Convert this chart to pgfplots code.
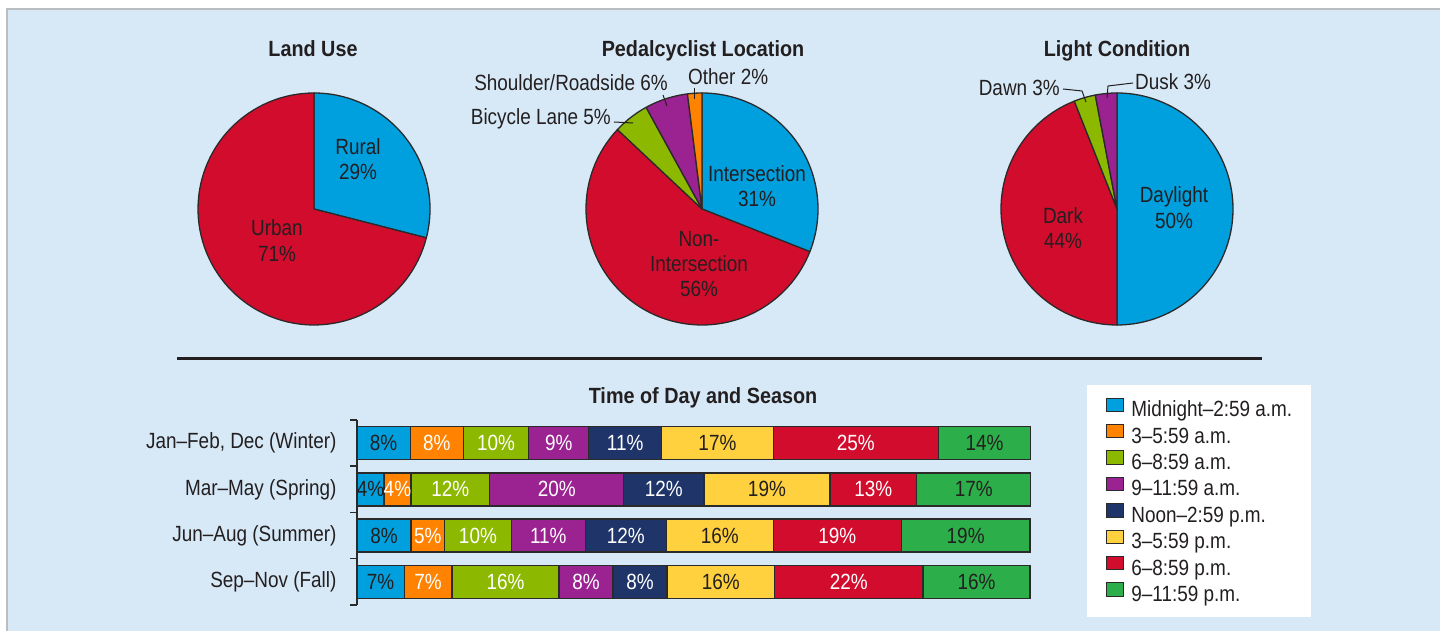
\documentclass[border=0pt]{standalone}
\usepackage{pgfplots}
\pgfplotsset{compat=1.18}
\usepackage{pgfplotstable}
\usepackage{fontspec}
\setmainfont{Liberation Sans}[FakeStretch=0.86]
\newfontfamily\tfont{Liberation Sans}[FakeStretch=0.9]
\definecolor{cBlue}{HTML}{00A0DE}
\definecolor{cOrange}{HTML}{FF8200}
\definecolor{cLime}{HTML}{8CB900}
\definecolor{cPurple}{HTML}{9B2291}
\definecolor{cNavy}{HTML}{1F3569}
\definecolor{cYellow}{HTML}{FFD13F}
\definecolor{cRed}{HTML}{D20C2D}
\definecolor{cGreen}{HTML}{2CAE4A}
\definecolor{bgblue}{HTML}{D7E9F7}
\definecolor{ink}{HTML}{231F20}
\definecolor{edge}{HTML}{2A2A2A}
\definecolor{frame}{HTML}{B9BEC3}
\newcommand\ft{\fontsize{22pt}{26pt}\selectfont}
\newcommand\ttl{\tfont\bfseries\fontsize{22pt}{26pt}\selectfont}

% widths (share of bar length) and printed labels, per season row
\pgfplotstableread{
row w1  l1 w2  l2 w3   l3 w4   l4 w5   l5 w6   l6 w7   l7 w8   l8
0   7.9 8  7.9 8  9.7  10 8.9  9  10.8 11 16.6 17 24.5 25 13.7 14
1   4.0 4  4.0 4  11.7 12 19.9 20 11.9 12 18.7 19 12.9 13 16.9 17
2   8.0 8  5.0 5  9.9  10 11.0 11 12.0 12 15.9 16 19.0 19 19.1 19
3   7.0 7  7.1 7  15.9 16 8.0  8  8.0  8  16.0 16 22.0 22 15.9 16
}\bars

% pie slice: cumulative start %, cumulative end %, colour (clockwise from 12 o'clock)
\newcommand{\slice}[3]{\addplot[fill=#3, draw=edge, line width=1.3pt, line join=round,
  domain={90-3.6*(#2)}:{90-3.6*(#1)}, samples=90] ({cos(x)},{sin(x)}) -- (axis cs:0,0) -- cycle;}

\newcommand{\seg}[4]{\addplot[fill=#3, draw=edge, line width=1.3pt,
  point meta=explicit symbolic,
  nodes near coords={\pgfplotspointmeta\%},
  every node near coord/.append style={anchor=center, text=#4, font=\ft, inner sep=0pt},
  legend image code/.code={\draw[fill=#3, draw=edge, line width=1pt] (0pt,-1.5pt) rectangle (17pt,11.8pt); \path (24pt,0pt);}]
  table[x=#1, y=row, meta=#2] {\bars};}

\pgfplotsset{pie/.style={anchor=center, width=232pt, height=232pt, scale only axis,
  xmin=-1, xmax=1, ymin=-1, ymax=1, hide axis, clip=false}}

\begin{document}
\begin{tikzpicture}
\useasboundingbox (0,0) rectangle (1440pt,631pt);
\fill[white] (0,0) rectangle (1440pt,631pt);
\fill[bgblue] (7pt,0pt) rectangle (1440pt,622pt);
\draw[frame, line width=2pt] (7pt,0pt) -- (7pt,622pt) -- (1440pt,622pt);

% ---- Land Use
\begin{axis}[pie, at={(314pt,422pt)}]
\slice{0}{29}{cBlue}
\slice{29}{100}{cRed}
\end{axis}
% ---- Pedalcyclist Location
\begin{axis}[pie, at={(702pt,422pt)}]
\slice{0}{31}{cBlue}
\slice{31}{87}{cRed}
\slice{87}{92}{cLime}
\slice{92}{98}{cPurple}
\slice{98}{100}{cOrange}
\end{axis}
% ---- Light Condition
\begin{axis}[pie, at={(1117pt,422pt)}]
\slice{0}{50}{cBlue}
\slice{50}{94}{cRed}
\slice{94}{97}{cLime}
\slice{97}{100}{cPurple}
\end{axis}

\begin{scope}[every node/.style={text=ink, font=\ft, inner sep=0pt}]
\node[anchor=base, font=\ttl] at (313pt,574pt) {Land Use};
\node[anchor=base, font=\ttl] at (703pt,574pt) {Pedalcyclist Location};
\node[anchor=base, font=\ttl] at (1117pt,574pt) {Light Condition};
\node[anchor=base] at (358pt,476pt) {Rural};
\node[anchor=base] at (358pt,451pt) {29\%};
\node[anchor=base] at (277pt,395pt) {Urban};
\node[anchor=base] at (277pt,369pt) {71\%};
\node[anchor=base] at (757pt,449pt) {Intersection};
\node[anchor=base] at (757pt,424pt) {31\%};
\node[anchor=base] at (699pt,384pt) {Non-};
\node[anchor=base] at (699pt,359pt) {Intersection};
\node[anchor=base] at (699pt,334pt) {56\%};
\node[anchor=base east] at (668pt,540pt) {Shoulder/Roadside 6\%};
\node[anchor=base west] at (688pt,546pt) {Other 2\%};
\node[anchor=base east] at (611pt,506pt) {Bicycle Lane 5\%};
\node[anchor=base] at (1174pt,428pt) {Daylight};
\node[anchor=base] at (1174pt,402pt) {50\%};
\node[anchor=base] at (1063pt,407pt) {Dark};
\node[anchor=base] at (1063pt,382pt) {44\%};
\node[anchor=base east] at (1060pt,535pt) {Dawn 3\%};
\node[anchor=base west] at (1135pt,541pt) {Dusk 3\%};
\node[anchor=base, font=\ttl] at (703pt,227pt) {Time of Day and Season};
\end{scope}
\begin{scope}[ink, line width=1pt]
\draw (614pt,509pt) -- (633pt,508pt);
\draw (663pt,536pt) -- (667pt,525pt);
\draw (694pt,543pt) -- (694pt,532pt);
\draw (1063pt,542pt) -- (1082pt,540pt) -- (1086pt,529pt);
\draw (1133pt,548pt) -- (1108pt,545pt) -- (1107pt,533pt);
\end{scope}
\draw[ink, line width=3pt] (177pt,272pt) -- (1262pt,272pt);

% ---- Time of Day and Season
\begin{axis}[at={(357pt,211pt)}, anchor=north west, width=674pt, height=185pt, scale only axis,
  xbar stacked, bar width=33pt, xmin=0, xmax=100.05, ymin=-0.5, ymax=3.5, y dir=reverse,
  axis x line=none, axis y line=left, xtick=\empty,
  y axis line style={-, line width=1.5pt, draw=edge},
  ytick={0,1,2,3},
  yticklabels={{Jan–Feb, Dec (Winter)},{Mar–May (Spring)},{Jun–Aug (Summer)},{Sep–Nov (Fall)}},
  yticklabel style={font=\ft, text=ink, xshift=-17pt},
  major tick length=0pt,
  minor ytick={-0.5,0.5,1.5,2.5,3.5}, minor tick length=7pt, tick align=outside,
  minor tick style={line width=1.5pt, draw=edge},
  legend style={at={(1.0831,1.1892)}, anchor=north west, draw=none, fill=white,
    font=\ft, text=ink, inner xsep=19pt, inner ysep=12.5pt, row sep=4.1pt, column sep=0pt,
    nodes={inner ysep=0pt, inner xsep=0pt, text height=16.8pt, text depth=3.2pt}},
  legend cell align=left]
\seg{w1}{l1}{cBlue}{ink}
\seg{w2}{l2}{cOrange}{white}
\seg{w3}{l3}{cLime}{white}
\seg{w4}{l4}{cPurple}{white}
\seg{w5}{l5}{cNavy}{white}
\seg{w6}{l6}{cYellow}{ink}
\seg{w7}{l7}{cRed}{white}
\seg{w8}{l8}{cGreen}{ink}
\legend{Midnight–2:59 a.m.,3–5:59 a.m.,6–8:59 a.m.,9–11:59 a.m.,Noon–2:59 p.m.,3–5:59 p.m.,6–8:59 p.m.,9–11:59 p.m.}
\end{axis}
\end{tikzpicture}
\end{document}
